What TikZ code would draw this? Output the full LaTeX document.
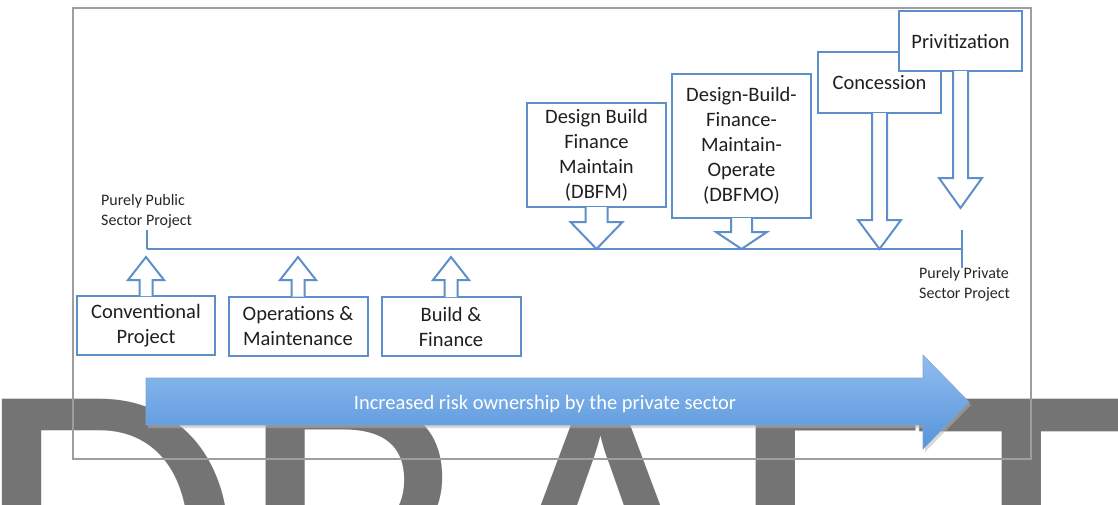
\documentclass[tikz,border=0pt]{standalone}
\usepackage{fontspec}
\setmainfont{Carlito}
\usetikzlibrary{calc}
\definecolor{boxblue}{RGB}{95,143,203}
\definecolor{framegray}{RGB}{158,158,158}
\definecolor{draftgray}{RGB}{116,116,116}
\definecolor{arrowtop}{RGB}{145,189,240}
\definecolor{arrowbottom}{RGB}{86,148,218}
\tikzset{
  scheme/.style={draw=boxblue, line width=2pt, fill=white, align=center, inner sep=0pt,
    text=black!88, font=\fontsize{20.5}{25}\selectfont},
  callout/.style={draw=boxblue, line width=2pt, fill=white, line join=miter},
  timeline/.style={draw=boxblue, line width=2.5pt},
  endlabel/.style={align=left, inner sep=0pt, text=black!85, font=\fontsize{16}{20}\selectfont},
  watermark/.style={inner sep=0pt, text=draftgray, font=\fontsize{440}{440}\selectfont}
}
% block arrow: #1 start, #2 tip, #3 shaft half width, #4 head half width, #5 head length
\newcommand{\blockarrow}[5]{%
  \path[callout] ([xshift=-#3]#1) -- ($([xshift=-#3]#2)!#5!([xshift=-#3]#1)$)
    -- ($([xshift=-#4]#2)!#5!([xshift=-#4]#1)$) -- (#2)
    -- ($([xshift=#4]#2)!#5!([xshift=#4]#1)$) -- ($([xshift=#3]#2)!#5!([xshift=#3]#1)$)
    -- ([xshift=#3]#1);
}
\begin{document}
\begin{tikzpicture}[x=1pt,y=-1pt]
  \useasboundingbox (0,0) rectangle (1118,504);
  \begin{scope}
    \clip (0,0) rectangle (1118,504);
    \node[watermark, anchor=base west] (draft) at (-28,681) {D\kern-8pt RA\kern-2pt F\kern-14pt T};
  \end{scope}
  \draw[framegray, line width=1.5pt] (73,8) rectangle (1031,459);

  \node[scheme, minimum width=138, minimum height=59] (conv) at (146,325.5) {Conventional\\Project};
  \node[scheme, minimum width=139, minimum height=59] (om) at (298,326) {Operations \&\\Maintenance};
  \node[scheme, minimum width=139, minimum height=59] (bf) at (451,326.5) {Build \&\\Finance};
  \coordinate (convtip) at (146,257);
  \coordinate (omtip) at (298,257);
  \coordinate (bftip) at (451,257);
  \coordinate (convbase) at ([yshift=-1pt]conv.north);
  \coordinate (ombase) at ([yshift=-1pt]om.north);
  \coordinate (bfbase) at ([yshift=-1pt]bf.north);
  \blockarrow{convbase}{convtip}{6.5pt}{18pt}{23pt}
  \blockarrow{ombase}{omtip}{6.5pt}{18pt}{23pt}
  \blockarrow{bfbase}{bftip}{6.5pt}{18pt}{23pt}

  \node[scheme, minimum width=139, minimum height=104] (dbfm) at (596.5,155) {Design Build\\Finance\\Maintain\\(DBFM)};
  \node[scheme, minimum width=139, minimum height=144] (dbfmo) at (741.5,146) {Design-Build-\\Finance-\\Maintain-\\Operate\\(DBFMO)};
  \coordinate (dbfmtip) at (596.5,249);
  \coordinate (dbfmotip) at (741.5,249);
  \coordinate (dbfmbase) at ([yshift=1pt]dbfm.south);
  \coordinate (dbfmobase) at ([yshift=1pt]dbfmo.south);
  \blockarrow{dbfmbase}{dbfmtip}{11pt}{26pt}{27pt}
  \blockarrow{dbfmobase}{dbfmotip}{10.5pt}{25.5pt}{17pt}

  \node[scheme, minimum width=123, minimum height=61] (conc) at (879.5,82.5) {Concession};
  \coordinate (conctip) at (879.5,249);
  \coordinate (concbase) at ([yshift=1pt]conc.south);
  \blockarrow{concbase}{conctip}{7.5pt}{21.5pt}{29pt}
  \node[scheme, minimum width=123, minimum height=60] (priv) at (960.5,41) {Privitization};
  \coordinate (privtip) at (960.5,208);
  \coordinate (privbase) at ([yshift=1pt]priv.south);
  \blockarrow{privbase}{privtip}{7.5pt}{21.5pt}{30pt}

  \coordinate (pubend) at (147,249);
  \coordinate (privend) at (962,249);
  \draw[timeline] (pubend) -- (privend);
  \draw[timeline] ([yshift=19pt]pubend) -- (pubend);
  \draw[timeline] ([yshift=19pt]privend) -- ([yshift=-19pt]privend);
  \node[endlabel, anchor=west] (publabel) at (101,211) {Purely Public\\Sector Project};
  \node[endlabel, anchor=west] (privlabel) at (919,284.5) {Purely Private\\Sector Project};

  \fill[black!30, opacity=0.5] (148,381) -- (925,381) -- (925,358) -- (971,405) -- (925,452) -- (925,428) -- (148,428) -- cycle;
  \shade[top color=arrowtop, bottom color=arrowbottom, draw=boxblue!80, line width=0.6pt]
    (146,378) -- (923,378) -- (923,355) -- (969,402) -- (923,449) -- (923,425) -- (146,425) -- cycle;
  \node[text=white, font=\fontsize{20.5}{24}\selectfont] (risk) at (545,404) {Increased risk ownership by the private sector};
\end{tikzpicture}
\end{document}
